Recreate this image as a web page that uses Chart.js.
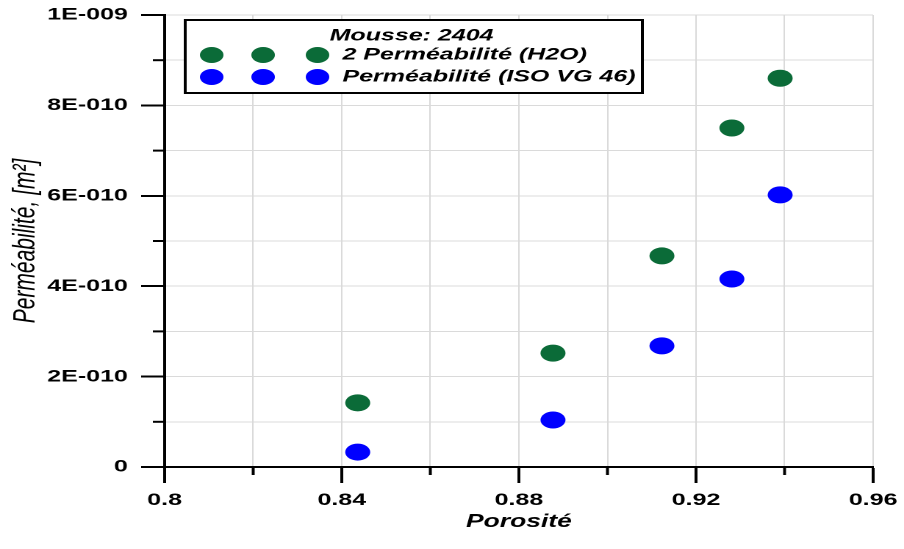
<!DOCTYPE html>
<html>
<head>
<meta charset="utf-8">
<script src="https://cdn.jsdelivr.net/npm/chart.js@4"></script>
<style>
body { margin: 0; background: #fff; }
</style>
</head>
<body>
<!-- drawn narrow, then stretched wide like the scanned original -->
<canvas id="chartPerm" width="615" height="549" style="width:904px;height:549px"></canvas>
<script>
var porosite = [0.8436, 0.8877, 0.9123, 0.9281, 0.939];
var permH2O = [1.42e-10, 2.52e-10, 4.67e-10, 7.5e-10, 8.6e-10];
var permISO = [0.33e-10, 1.04e-10, 2.68e-10, 4.16e-10, 6.02e-10];
var xTickLabels = ["0.8", "0.84", "0.88", "0.92", "0.96"];
var yTickLabels = ["0", "2E-010", "4E-010", "6E-010", "8E-010", "1E-009"];
var legendTitle = "Mousse: 2404";
var seriesNames = ["2 Perméabilité (H2O)", "Perméabilité (ISO VG 46)"];
var green = "#0b6b38";
var blue = "#0000ff";
var fontFam = "'Liberation Sans', Arial, sans-serif";

function toPoints(xs, ys) {
    return xs.map(function (x, i) { return { x: x, y: ys[i] }; });
}

function majorColor(c) {
    return c.index % 2 === 0 ? "#000" : "rgba(0,0,0,0)";
}

// minor ticks + legend box with the three-dot samples
var extras = {
    id: "extras",
    afterDraw: function (chart) {
        var ctx = chart.ctx;
        var area = chart.chartArea;
        var sx = chart.scales.x;
        var sy = chart.scales.y;
        ctx.save();
        ctx.strokeStyle = "#000";
        ctx.lineWidth = 2;
        sx.ticks.forEach(function (t, i) {
            if (i % 2 === 1) {
                var px = sx.getPixelForValue(t.value);
                ctx.beginPath();
                ctx.moveTo(px, area.bottom);
                ctx.lineTo(px, area.bottom + 8);
                ctx.stroke();
            }
        });
        sy.ticks.forEach(function (t, i) {
            if (i % 2 === 1) {
                var py = sy.getPixelForValue(t.value);
                ctx.beginPath();
                ctx.moveTo(area.left - 8, py);
                ctx.lineTo(area.left, py);
                ctx.stroke();
            }
        });

        var bx = area.left + 14, by = area.top + 5, bw = 311, bh = 73;
        ctx.fillStyle = "#fff";
        ctx.fillRect(bx, by, bw, bh);
        ctx.strokeRect(bx, by, bw, bh);

        ctx.fillStyle = "#000";
        ctx.font = "italic bold 17px " + fontFam;
        ctx.textAlign = "center";
        ctx.textBaseline = "middle";
        ctx.fillText(legendTitle, bx + 154, by + 16);

        ctx.textAlign = "left";
        chart.data.datasets.forEach(function (ds, k) {
            var ry = by + 35 + k * 22;
            ctx.fillStyle = ds.backgroundColor;
            [18, 53, 90].forEach(function (dx) {
                ctx.beginPath();
                ctx.arc(bx + dx, ry, 8, 0, Math.PI * 2);
                ctx.fill();
            });
            ctx.fillStyle = "#000";
            ctx.fillText(ds.label, bx + 107, ry);
        });
        ctx.restore();
    },
};

var ctxPerm = document.getElementById("chartPerm").getContext("2d");
var chartPerm = new Chart(ctxPerm, {
    type: "scatter",
    data: {
        datasets: [{
            label: seriesNames[0],
            data: toPoints(porosite, permH2O),
            backgroundColor: green,
            borderWidth: 0,
            pointRadius: 8.5,
        }, {
            label: seriesNames[1],
            data: toPoints(porosite, permISO),
            backgroundColor: blue,
            borderWidth: 0,
            pointRadius: 8.5,
        }],
    },
    options: {
        responsive: false,
        animation: false,
        devicePixelRatio: 2,
        layout: { padding: { left: 0, right: 21, top: 15, bottom: 0 } },
        plugins: {
            legend: { display: false },
            tooltip: { enabled: false },
        },
        scales: {
            x: {
                type: "linear",
                min: 0.8,
                max: 0.96,
                afterFit: function (s) {
                    s.height = 82;
                    s.paddingLeft = 0;
                    s.paddingRight = 0;
                },
                ticks: {
                    stepSize: 0.02,
                    autoSkip: false,
                    maxRotation: 0,
                    padding: 7,
                    color: "#000",
                    font: { family: fontFam, size: 17, weight: "bold" },
                    callback: function (v, i) { return i % 2 === 0 ? xTickLabels[i / 2] : ""; },
                },
                grid: {
                    color: "#dadada",
                    lineWidth: 1,
                    tickLength: 16,
                    tickWidth: 2,
                    tickColor: majorColor,
                },
                border: { color: "#000", width: 2 },
                title: {
                    display: true,
                    text: "Porosité",
                    color: "#000",
                    font: { family: fontFam, size: 18, weight: "bold", style: "italic" },
                    padding: { top: 0, bottom: 16 },
                },
            },
            y: {
                min: 0,
                max: 1e-9,
                afterFit: function (s) {
                    s.width = 112;
                    s.paddingTop = 0;
                    s.paddingBottom = 0;
                },
                ticks: {
                    stepSize: 1e-10,
                    autoSkip: false,
                    padding: 9,
                    color: "#000",
                    font: { family: fontFam, size: 17, weight: "bold" },
                    callback: function (v, i) { return i % 2 === 0 ? yTickLabels[i / 2] : ""; },
                },
                grid: {
                    color: "#dadada",
                    lineWidth: 1,
                    tickLength: 16,
                    tickWidth: 2,
                    tickColor: majorColor,
                },
                border: { color: "#000", width: 2 },
                title: {
                    display: true,
                    text: "Perméabilité, [m²]",
                    color: "#000",
                    font: { family: fontFam, size: 21, style: "italic" },
                    padding: { top: 5, bottom: 0 },
                },
            },
        },
    },
    plugins: [extras],
});
</script>
</body>
</html>
